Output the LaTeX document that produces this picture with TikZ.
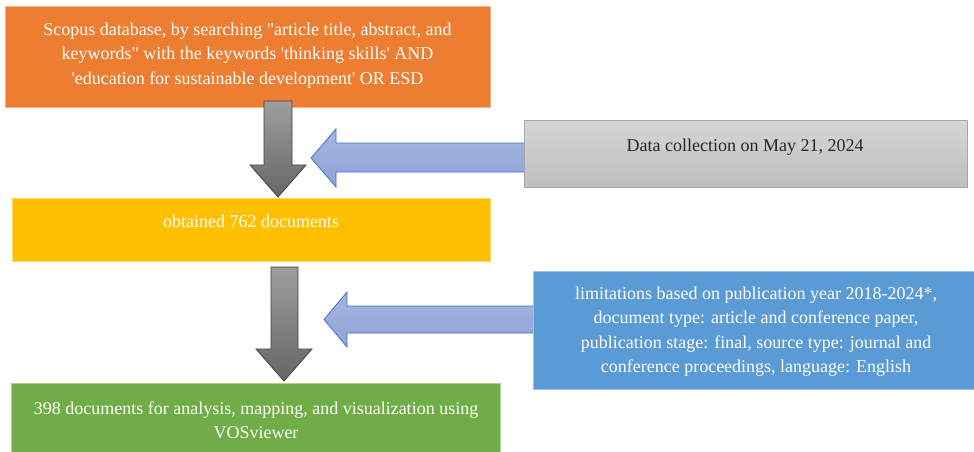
\documentclass[tikz,border=0pt]{standalone}
\usepackage{fontspec}
\setmainfont{Liberation Serif}[Ligatures=TeXOff]
\begin{document}
\begin{tikzpicture}[x=1pt,y=-1pt,
  box/.style={anchor=north west,inner sep=0pt,outer sep=0pt,line width=0.8pt},
  txt/.style={align=center,font=\fontsize{18}{24.5}\selectfont,inner sep=0pt,text=white},
  grayarrow/.style={draw=black!75,line width=0.8pt,top color=black!38,bottom color=black!60},
  bluearrow/.style={draw=bluedge,line width=0.8pt,top color=bluetop,bottom color=bluebot}
]
\definecolor{orangefill}{HTML}{ED7D31}
\definecolor{orangeedge}{HTML}{F4B183}
\definecolor{yellowfill}{HTML}{FFC000}
\definecolor{yellowedge}{HTML}{FFD966}
\definecolor{greenfill}{HTML}{70AD47}
\definecolor{greenedge}{HTML}{A9D18E}
\definecolor{bluefill}{HTML}{5B9BD5}
\definecolor{blueedge}{HTML}{9DC3E6}
\definecolor{bluedge}{HTML}{4472C4}
\definecolor{bluetop}{HTML}{A3B5E0}
\definecolor{bluebot}{HTML}{8EA4D8}
\definecolor{graytop}{HTML}{D6D6D6}
\definecolor{graybot}{HTML}{BEBEBE}
\definecolor{grayedge}{HTML}{A6A6A6}
\useasboundingbox (0,0) rectangle (974,452);
\fill[white] (0,0) rectangle (974,452);

% blue arrows (behind boxes)
\shadedraw[bluearrow] (311,158) -- (336,129) -- (336,143) -- (526,143) -- (526,172) -- (336,172) -- (336,187) -- cycle;
\shadedraw[bluearrow] (324,319.5) -- (347,292) -- (347,306) -- (537,306) -- (537,333) -- (347,333) -- (347,347) -- cycle;

% boxes
\node[box,fill=orangefill,draw=orangeedge,minimum width=485pt,minimum height=101pt] (orange) at (5,6) {};
\node[box,fill=yellowfill,draw=yellowedge,minimum width=478pt,minimum height=63pt] (yellow) at (12,198) {};
\node[box,top color=graytop,bottom color=graybot,draw=grayedge,minimum width=443pt,minimum height=67pt] (graybox) at (524,120) {};
\node[box,fill=bluefill,draw=blueedge,minimum width=442pt,minimum height=118pt] (bluebox) at (533,271) {};
\node[box,fill=greenfill,draw=greenedge,minimum width=489pt,minimum height=75pt] (green) at (11,383) {};

% texts
\node[txt] (t1) at (247.5,55.5) {Scopus database, by searching "article title, abstract, and\\keywords" with the keywords 'thinking skills' AND\\'education for sustainable development' OR ESD};
\node[txt] (t2) at (251,221) {obtained 762 documents};
\node[txt,text=black!85] (t3) at (745,147) {Data collection on May 21, 2024};
\node[txt] (t4) at (756,331.5) {limitations based on publication year 2018-2024*,\\document type: article and conference paper,\\publication stage: final, source type: journal and\\conference proceedings, language: English};
\node[txt] (t5) at (256,420.5) {398 documents for analysis, mapping, and visualization using\\VOSviewer};

% gray down arrows
\shadedraw[grayarrow] (264,101) -- (292,101) -- (292,165) -- (306,165) -- (278,197) -- (250,165) -- (264,165) -- cycle;
\shadedraw[grayarrow] (271,267) -- (298,267) -- (298,349) -- (312,349) -- (284,381) -- (256,349) -- (271,349) -- cycle;
\end{tikzpicture}
\end{document}
